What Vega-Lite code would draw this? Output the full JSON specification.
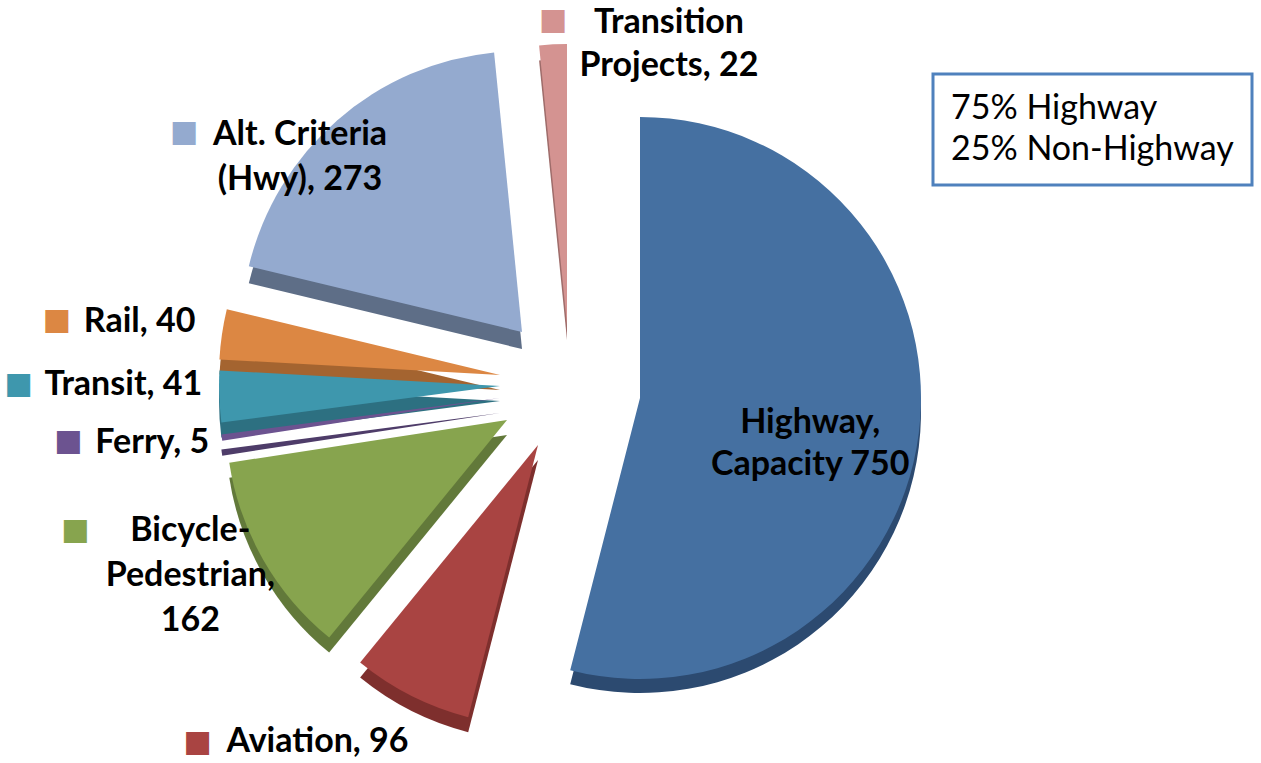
{
  "$schema": "https://vega.github.io/schema/vega-lite/v6.json",
  "width": 1150,
  "height": 736,
  "autosize": {"type": "none"},
  "padding": {"left": 0, "top": 27, "right": 111, "bottom": 0},
  "background": "white",
  "config": {"view": {"stroke": null}, "legend": {"strokeWidth": 3}},
  "data": {"values": [
    {"cat": "Highway", "label": "Highway,\nCapacity 750", "value": 750, "order": 1, "group": "75% Highway"},
    {"cat": "Aviation", "label": "Aviation, 96", "value": 96, "order": 2, "group": "25% Non-Highway"},
    {"cat": "Bicycle-Pedestrian", "label": "Bicycle-\nPedestrian,\n162", "value": 162, "order": 3, "group": "25% Non-Highway"},
    {"cat": "Ferry", "label": "Ferry, 5", "value": 5, "order": 4, "group": "25% Non-Highway"},
    {"cat": "Transit", "label": "Transit, 41", "value": 41, "order": 5, "group": "25% Non-Highway"},
    {"cat": "Rail", "label": "Rail, 40", "value": 40, "order": 6, "group": "25% Non-Highway"},
    {"cat": "Alt. Criteria (Hwy)", "label": "Alt. Criteria\n(Hwy), 273", "value": 273, "order": 7, "group": "75% Highway"},
    {"cat": "Transition Projects", "label": "Transition\nProjects, 22", "value": 22, "order": 8, "group": "75% Highway"}
  ]},
  "transform": [{"stack": "value", "groupby": [], "sort": [{"field": "order", "order": "ascending"}], "as": ["v0", "v1"]}],
  "layer": [
    {"transform": [{"filter": "datum.cat === 'Highway'"}], "mark": {"type": "arc", "outerRadius": 281, "xOffset": 65, "yOffset": 17}, "encoding": {"theta": {"field": "v0", "type": "quantitative", "scale": {"domain": [0, 1389], "nice": false}}, "theta2": {"field": "v1"}, "fill": {"field": "cat", "type": "nominal", "legend": null, "scale": {"domain": ["Highway", "Aviation", "Bicycle-Pedestrian", "Ferry", "Transit", "Rail", "Alt. Criteria (Hwy)", "Transition Projects"], "range": ["#2C4A70", "#7E2F2D", "#62793A", "#4E3C69", "#2D7081", "#A46430", "#5E6E87", "#9E6C6A"]}}}},
    {"transform": [{"filter": "datum.cat === 'Aviation'"}], "mark": {"type": "arc", "outerRadius": 281, "xOffset": -37, "yOffset": 65}, "encoding": {"theta": {"field": "v0", "type": "quantitative"}, "theta2": {"field": "v1"}, "fill": {"field": "cat", "type": "nominal", "legend": null}}},
    {"transform": [{"filter": "datum.cat === 'Bicycle-Pedestrian'"}], "mark": {"type": "arc", "outerRadius": 281, "xOffset": -68, "yOffset": 40}, "encoding": {"theta": {"field": "v0", "type": "quantitative"}, "theta2": {"field": "v1"}, "fill": {"field": "cat", "type": "nominal", "legend": null}}},
    {"transform": [{"filter": "datum.cat === 'Ferry'"}], "mark": {"type": "arc", "outerRadius": 281, "xOffset": -75, "yOffset": 18}, "encoding": {"theta": {"field": "v0", "type": "quantitative"}, "theta2": {"field": "v1"}, "fill": {"field": "cat", "type": "nominal", "legend": null}}},
    {"transform": [{"filter": "datum.cat === 'Transit'"}], "mark": {"type": "arc", "outerRadius": 281, "xOffset": -75, "yOffset": 6}, "encoding": {"theta": {"field": "v0", "type": "quantitative"}, "theta2": {"field": "v1"}, "fill": {"field": "cat", "type": "nominal", "legend": null}}},
    {"transform": [{"filter": "datum.cat === 'Rail'"}], "mark": {"type": "arc", "outerRadius": 281, "xOffset": -75, "yOffset": -5}, "encoding": {"theta": {"field": "v0", "type": "quantitative"}, "theta2": {"field": "v1"}, "fill": {"field": "cat", "type": "nominal", "legend": null}}},
    {"transform": [{"filter": "datum.cat === 'Alt. Criteria (Hwy)'"}], "mark": {"type": "arc", "outerRadius": 281, "xOffset": -53, "yOffset": -46}, "encoding": {"theta": {"field": "v0", "type": "quantitative"}, "theta2": {"field": "v1"}, "fill": {"field": "cat", "type": "nominal", "legend": null}}},
    {"transform": [{"filter": "datum.cat === 'Transition Projects'"}], "mark": {"type": "arc", "outerRadius": 281, "xOffset": -8, "yOffset": -55}, "encoding": {"theta": {"field": "v0", "type": "quantitative"}, "theta2": {"field": "v1"}, "fill": {"field": "cat", "type": "nominal", "legend": null}}},

    {"transform": [{"filter": "datum.cat === 'Highway'"}], "mark": {"type": "arc", "outerRadius": 281, "xOffset": 65, "yOffset": 3}, "encoding": {"theta": {"field": "v0", "type": "quantitative"}, "theta2": {"field": "v1"}, "color": {"field": "cat", "type": "nominal", "legend": null, "scale": {"domain": ["Highway", "Aviation", "Bicycle-Pedestrian", "Ferry", "Transit", "Rail", "Alt. Criteria (Hwy)", "Transition Projects"], "range": ["#4570A1", "#A94442", "#87A44E", "#6C5390", "#3E97AD", "#DC8743", "#94AACF", "#D49391"]}}, "opacity": {"field": "group", "type": "nominal", "scale": {"domain": ["75% Highway", "25% Non-Highway"], "range": [1, 1]}, "legend": {"title": null, "orient": "none", "legendX": 933, "legendY": 47, "symbolSize": 0, "symbolStrokeWidth": 0, "symbolOpacity": 0, "labelOffset": -34, "labelFont": "Lato", "labelFontSize": 34, "labelColor": "black", "labelLimit": 500, "padding": 18, "rowPadding": 7, "strokeColor": "#4F81BD", "fillColor": "white"}}}},
    {"transform": [{"filter": "datum.cat === 'Aviation'"}], "mark": {"type": "arc", "outerRadius": 281, "xOffset": -37, "yOffset": 50}, "encoding": {"theta": {"field": "v0", "type": "quantitative"}, "theta2": {"field": "v1"}, "color": {"field": "cat", "type": "nominal", "legend": null}}},
    {"transform": [{"filter": "datum.cat === 'Bicycle-Pedestrian'"}], "mark": {"type": "arc", "outerRadius": 281, "xOffset": -68, "yOffset": 25}, "encoding": {"theta": {"field": "v0", "type": "quantitative"}, "theta2": {"field": "v1"}, "color": {"field": "cat", "type": "nominal", "legend": null}}},
    {"transform": [{"filter": "datum.cat === 'Ferry'"}], "mark": {"type": "arc", "outerRadius": 281, "xOffset": -75, "yOffset": 3}, "encoding": {"theta": {"field": "v0", "type": "quantitative"}, "theta2": {"field": "v1"}, "color": {"field": "cat", "type": "nominal", "legend": null}}},
    {"transform": [{"filter": "datum.cat === 'Transit'"}], "mark": {"type": "arc", "outerRadius": 281, "xOffset": -75, "yOffset": -9}, "encoding": {"theta": {"field": "v0", "type": "quantitative"}, "theta2": {"field": "v1"}, "color": {"field": "cat", "type": "nominal", "legend": null}}},
    {"transform": [{"filter": "datum.cat === 'Rail'"}], "mark": {"type": "arc", "outerRadius": 281, "xOffset": -75, "yOffset": -20}, "encoding": {"theta": {"field": "v0", "type": "quantitative"}, "theta2": {"field": "v1"}, "color": {"field": "cat", "type": "nominal", "legend": null}}},
    {"transform": [{"filter": "datum.cat === 'Alt. Criteria (Hwy)'"}], "mark": {"type": "arc", "outerRadius": 281, "xOffset": -53, "yOffset": -63}, "encoding": {"theta": {"field": "v0", "type": "quantitative"}, "theta2": {"field": "v1"}, "color": {"field": "cat", "type": "nominal", "legend": null}}},
    {"transform": [{"filter": "datum.cat === 'Transition Projects'"}], "mark": {"type": "arc", "outerRadius": 281, "xOffset": -8, "yOffset": -70}, "encoding": {"theta": {"field": "v0", "type": "quantitative"}, "theta2": {"field": "v1"}, "color": {"field": "cat", "type": "nominal", "legend": null}}},

    {"mark": {"type": "text", "radius": 236, "dx": 1, "dy": 8, "font": "Lato", "fontWeight": "bold", "fontSize": 34, "lineHeight": 42, "align": "center", "baseline": "alphabetic", "lineBreak": "\n", "color": "black"}, "encoding": {"theta": {"field": "value", "type": "quantitative", "stack": true}, "order": {"field": "order", "type": "quantitative"}, "text": {"condition": {"test": "datum.cat === 'Highway'", "field": "label", "type": "nominal"}, "value": ""}}},
    {"mark": {"type": "text", "radius": 400, "dx": -77, "dy": 0, "font": "Lato", "fontWeight": "bold", "fontSize": 34, "lineHeight": 45, "align": "center", "baseline": "alphabetic", "lineBreak": "\n", "color": "black"}, "encoding": {"theta": {"field": "value", "type": "quantitative", "stack": true}, "order": {"field": "order", "type": "quantitative"}, "text": {"condition": {"test": "datum.cat === 'Aviation'", "field": "label", "type": "nominal"}, "value": ""}}},
    {"mark": {"type": "text", "radius": 412, "dx": -27, "dy": -58, "font": "Lato", "fontWeight": "bold", "fontSize": 34, "lineHeight": 45, "align": "center", "baseline": "alphabetic", "lineBreak": "\n", "color": "black"}, "encoding": {"theta": {"field": "value", "type": "quantitative", "stack": true}, "order": {"field": "order", "type": "quantitative"}, "text": {"condition": {"test": "datum.cat === 'Bicycle-Pedestrian'", "field": "label", "type": "nominal"}, "value": ""}}},
    {"mark": {"type": "text", "radius": 427, "dx": 0, "dy": -2, "font": "Lato", "fontWeight": "bold", "fontSize": 34, "lineHeight": 45, "align": "center", "baseline": "alphabetic", "lineBreak": "\n", "color": "black"}, "encoding": {"theta": {"field": "value", "type": "quantitative", "stack": true}, "order": {"field": "order", "type": "quantitative"}, "text": {"condition": {"test": "datum.cat === 'Ferry'", "field": "label", "type": "nominal"}, "value": ""}}},
    {"mark": {"type": "text", "radius": 452, "dx": 0, "dy": -17, "font": "Lato", "fontWeight": "bold", "fontSize": 34, "lineHeight": 45, "align": "center", "baseline": "alphabetic", "lineBreak": "\n", "color": "black"}, "encoding": {"theta": {"field": "value", "type": "quantitative", "stack": true}, "order": {"field": "order", "type": "quantitative"}, "text": {"condition": {"test": "datum.cat === 'Transit'", "field": "label", "type": "nominal"}, "value": ""}}},
    {"mark": {"type": "text", "radius": 435, "dx": -5, "dy": 0, "font": "Lato", "fontWeight": "bold", "fontSize": 34, "lineHeight": 45, "align": "center", "baseline": "alphabetic", "lineBreak": "\n", "color": "black"}, "encoding": {"theta": {"field": "value", "type": "quantitative", "stack": true}, "order": {"field": "order", "type": "quantitative"}, "text": {"condition": {"test": "datum.cat === 'Rail'", "field": "label", "type": "nominal"}, "value": ""}}},
    {"mark": {"type": "text", "radius": 350, "dx": -45, "dy": 14, "font": "Lato", "fontWeight": "bold", "fontSize": 34, "lineHeight": 45, "align": "center", "baseline": "alphabetic", "lineBreak": "\n", "color": "black"}, "encoding": {"theta": {"field": "value", "type": "quantitative", "stack": true}, "order": {"field": "order", "type": "quantitative"}, "text": {"condition": {"test": "datum.cat === 'Alt. Criteria (Hwy)'", "field": "label", "type": "nominal"}, "value": ""}}},
    {"mark": {"type": "text", "radius": 362, "dx": 112, "dy": 0, "font": "Lato", "fontWeight": "bold", "fontSize": 34, "lineHeight": 43, "align": "center", "baseline": "alphabetic", "lineBreak": "\n", "color": "black"}, "encoding": {"theta": {"field": "value", "type": "quantitative", "stack": true}, "order": {"field": "order", "type": "quantitative"}, "text": {"condition": {"test": "datum.cat === 'Transition Projects'", "field": "label", "type": "nominal"}, "value": ""}}},

    {"mark": {"type": "text", "radius": 400, "dx": -197, "dy": -10, "font": "DejaVu Sans", "fontSize": 30, "align": "center", "baseline": "middle"}, "encoding": {"theta": {"field": "value", "type": "quantitative", "stack": true}, "order": {"field": "order", "type": "quantitative"}, "color": {"field": "cat", "type": "nominal", "legend": null}, "text": {"condition": {"test": "datum.cat === 'Aviation'", "value": "■"}, "value": ""}}},
    {"mark": {"type": "text", "radius": 412, "dx": -142, "dy": -69, "font": "DejaVu Sans", "fontSize": 30, "align": "center", "baseline": "middle"}, "encoding": {"theta": {"field": "value", "type": "quantitative", "stack": true}, "order": {"field": "order", "type": "quantitative"}, "color": {"field": "cat", "type": "nominal", "legend": null}, "text": {"condition": {"test": "datum.cat === 'Bicycle-Pedestrian'", "value": "■"}, "value": ""}}},
    {"mark": {"type": "text", "radius": 427, "dx": -84, "dy": -14, "font": "DejaVu Sans", "fontSize": 30, "align": "center", "baseline": "middle"}, "encoding": {"theta": {"field": "value", "type": "quantitative", "stack": true}, "order": {"field": "order", "type": "quantitative"}, "color": {"field": "cat", "type": "nominal", "legend": null}, "text": {"condition": {"test": "datum.cat === 'Ferry'", "value": "■"}, "value": ""}}},
    {"mark": {"type": "text", "radius": 452, "dx": -105, "dy": -28, "font": "DejaVu Sans", "fontSize": 30, "align": "center", "baseline": "middle"}, "encoding": {"theta": {"field": "value", "type": "quantitative", "stack": true}, "order": {"field": "order", "type": "quantitative"}, "color": {"field": "cat", "type": "nominal", "legend": null}, "text": {"condition": {"test": "datum.cat === 'Transit'", "value": "■"}, "value": ""}}},
    {"mark": {"type": "text", "radius": 435, "dx": -88, "dy": -12, "font": "DejaVu Sans", "fontSize": 30, "align": "center", "baseline": "middle"}, "encoding": {"theta": {"field": "value", "type": "quantitative", "stack": true}, "order": {"field": "order", "type": "quantitative"}, "color": {"field": "cat", "type": "nominal", "legend": null}, "text": {"condition": {"test": "datum.cat === 'Rail'", "value": "■"}, "value": ""}}},
    {"mark": {"type": "text", "radius": 350, "dx": -161, "dy": 1, "font": "DejaVu Sans", "fontSize": 30, "align": "center", "baseline": "middle"}, "encoding": {"theta": {"field": "value", "type": "quantitative", "stack": true}, "order": {"field": "order", "type": "quantitative"}, "color": {"field": "cat", "type": "nominal", "legend": null}, "text": {"condition": {"test": "datum.cat === 'Alt. Criteria (Hwy)'", "value": "■"}, "value": ""}}},
    {"mark": {"type": "text", "radius": 362, "dx": -4, "dy": -13, "font": "DejaVu Sans", "fontSize": 30, "align": "center", "baseline": "middle"}, "encoding": {"theta": {"field": "value", "type": "quantitative", "stack": true}, "order": {"field": "order", "type": "quantitative"}, "color": {"field": "cat", "type": "nominal", "legend": null}, "text": {"condition": {"test": "datum.cat === 'Transition Projects'", "value": "■"}, "value": ""}}}
  ]
}
